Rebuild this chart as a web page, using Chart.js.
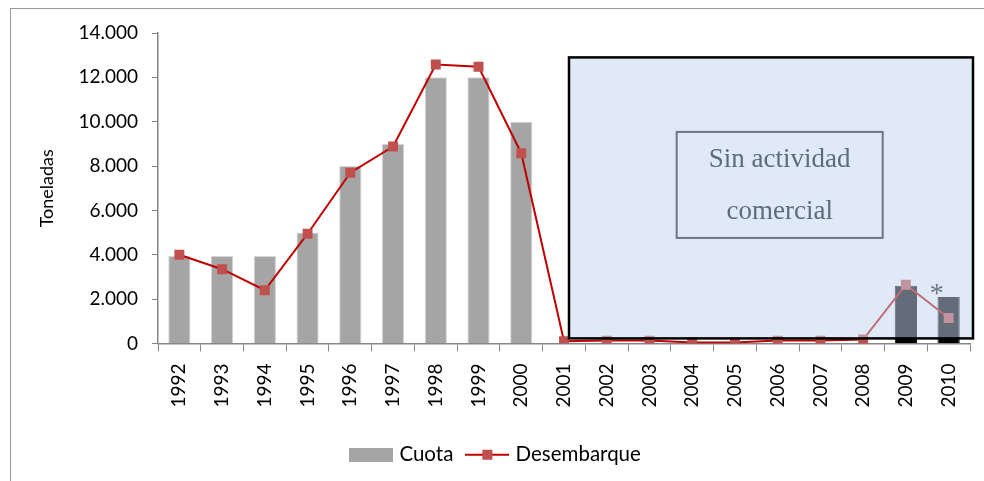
<!DOCTYPE html>
<html lang="es">
<head>
<meta charset="UTF-8">
<title>Cuota y Desembarque</title>
<script src="https://cdn.jsdelivr.net/npm/chart.js"></script>
<style>
    html, body { margin: 0; padding: 0; background: #fff; }
    body { width: 984px; height: 481px; position: relative; overflow: hidden; }
    .frame {
        position: absolute; left: 10px; top: 8px; width: 1000px; height: 500px;
        border-top: 1px solid #9a9a9a; border-left: 1px solid #9a9a9a;
    }
    .chart-box { position: absolute; left: 0; top: 0; width: 984px; height: 481px; }
</style>
</head>
<body>
<div class="frame"></div>
<div class="chart-box"><canvas id="cuotaChart"></canvas></div>
<script>
const years = ['1992','1993','1994','1995','1996','1997','1998','1999','2000','2001',
               '2002','2003','2004','2005','2006','2007','2008','2009','2010'];
const cuota = [3950, 3950, 3950, 5000, 8000, 9000, 12000, 12000, 10000, 0,
               0, 0, 0, 0, 0, 0, 0, 2600, 2100];
const desembarque = [4000, 3350, 2400, 4950, 7700, 8880, 12580, 12480, 8580, 100,
                     130, 130, 45, 40, 130, 130, 180, 2650, 1150];
const yTicks = [0, 2000, 4000, 6000, 8000, 10000, 12000, 14000];

const FONT = 'Lato, "Open Sans", sans-serif';
const fmt = v => String(v).replace(/\B(?=(\d{3})+(?!\d))/g, '.');

// little legend pictures
function swatchBar() {
    const c = document.createElement('canvas');
    c.width = 44; c.height = 14;
    const g = c.getContext('2d');
    g.fillStyle = '#a5a5a5';
    g.fillRect(0, 0, 44, 14);
    return c;
}
function swatchLine() {
    const c = document.createElement('canvas');
    c.width = 44; c.height = 14;
    const g = c.getContext('2d');
    g.strokeStyle = '#c00000'; g.lineWidth = 2;
    g.beginPath(); g.moveTo(0, 7); g.lineTo(44, 7); g.stroke();
    g.fillStyle = '#c0504d';
    g.fillRect(17, 2, 10, 10);
    return c;
}

// shaded "Sin actividad comercial" block, drawn over the datasets
const sinActividad = {
    id: 'sinActividad',
    afterDatasetsDraw(chart) {
        const { ctx, chartArea, scales: { x, y } } = chart;
        const left = x.getPixelForValue(9) + 5;
        const right = chartArea.right + 3;
        const top = y.getPixelForValue(12900);
        const bottom = y.getPixelForValue(230);
        ctx.save();
        ctx.fillStyle = 'rgba(194, 212, 237, 0.51)';
        ctx.fillRect(left, top, right - left, bottom - top);
        ctx.strokeStyle = '#000';
        ctx.lineWidth = 2.5;
        ctx.strokeRect(left, top, right - left, bottom - top);

        const cx = x.getPixelForValue(14) + 2;
        const cy = y.getPixelForValue(7150);
        ctx.strokeStyle = '#6b7585';
        ctx.lineWidth = 2;
        ctx.strokeRect(cx - 103, cy - 53, 206, 106);
        ctx.fillStyle = '#5f6b7a';
        ctx.font = '27px "Liberation Serif", "Times New Roman", serif';
        ctx.textAlign = 'center';
        ctx.textBaseline = 'middle';
        ctx.fillText('Sin actividad', cx, cy - 25);
        ctx.fillText('comercial', cx, cy + 27);

        ctx.font = '28px "Liberation Serif", serif';
        ctx.fillStyle = '#6b7585';
        ctx.fillText('*', x.getPixelForValue(18) - 12, y.getPixelForValue(2200));
        ctx.restore();
    }
};

new Chart(document.getElementById('cuotaChart'), {
    type: 'bar',
    data: {
        labels: years,
        datasets: [{
            type: 'line',
            label: 'Desembarque',
            data: desembarque,
            borderColor: '#c00000',
            borderWidth: 2,
            pointStyle: 'rect',
            pointRadius: 7,
            pointBackgroundColor: '#c0504d',
            pointBorderColor: '#c0504d',
            pointBorderWidth: 0,
            tension: 0,
            order: 1
        }, {
            label: 'Cuota',
            data: cuota,
            backgroundColor: ctx => ctx.dataIndex >= 17 ? '#000' : '#a5a5a5',
            borderColor: ctx => ctx.dataIndex >= 17 ? '#000' : '#d4d4d4',
            borderWidth: 1,
            categoryPercentage: 1,
            barPercentage: 0.52,
            order: 2
        }]
    },
    options: {
        responsive: true,
        maintainAspectRatio: false,
        animation: false,
        layout: { padding: { top: 33, right: 14, bottom: 6, left: 24 } },
        plugins: {
            tooltip: { enabled: false },
            legend: {
                position: 'bottom',
                labels: {
                    usePointStyle: true,
                    pointStyleWidth: 36,
                    boxHeight: 14,
                    padding: 16,
                    color: '#000',
                    font: { family: FONT, size: 20.5 },
                    generateLabels: () => [
                        { text: 'Cuota', pointStyle: swatchBar(), datasetIndex: 1, fillStyle: '#a5a5a5', strokeStyle: '#a5a5a5', lineWidth: 0 },
                        { text: 'Desembarque', pointStyle: swatchLine(), datasetIndex: 0, fillStyle: '#c0504d', strokeStyle: '#c0504d', lineWidth: 0 }
                    ]
                }
            }
        },
        scales: {
            x: {
                afterFit(s) { s.height = 85; },
                border: { color: '#868686', width: 1.5 },
                grid: { offset: true, drawOnChartArea: false, tickLength: 8, color: '#868686' },
                ticks: {
                    autoSkip: false, minRotation: 90, maxRotation: 90, padding: 12,
                    color: '#000', font: { family: FONT, size: 19 }
                }
            },
            y: {
                min: 0,
                max: 14000,
                afterFit(s) { s.width = 134; },
                afterBuildTicks(s) { s.ticks = yTicks.map(v => ({ value: v })); },
                border: { color: '#868686', width: 1.5 },
                grid: { drawOnChartArea: false, tickLength: 6, color: '#868686' },
                ticks: {
                    padding: 14, color: '#000', font: { family: FONT, size: 19 },
                    callback: v => fmt(v)
                },
                title: {
                    display: true, text: 'Toneladas', color: '#000',
                    font: { family: FONT, size: 18 },
                    padding: { top: 12, bottom: 0 }
                }
            }
        }
    },
    plugins: [sinActividad]
});
</script>
</body>
</html>
